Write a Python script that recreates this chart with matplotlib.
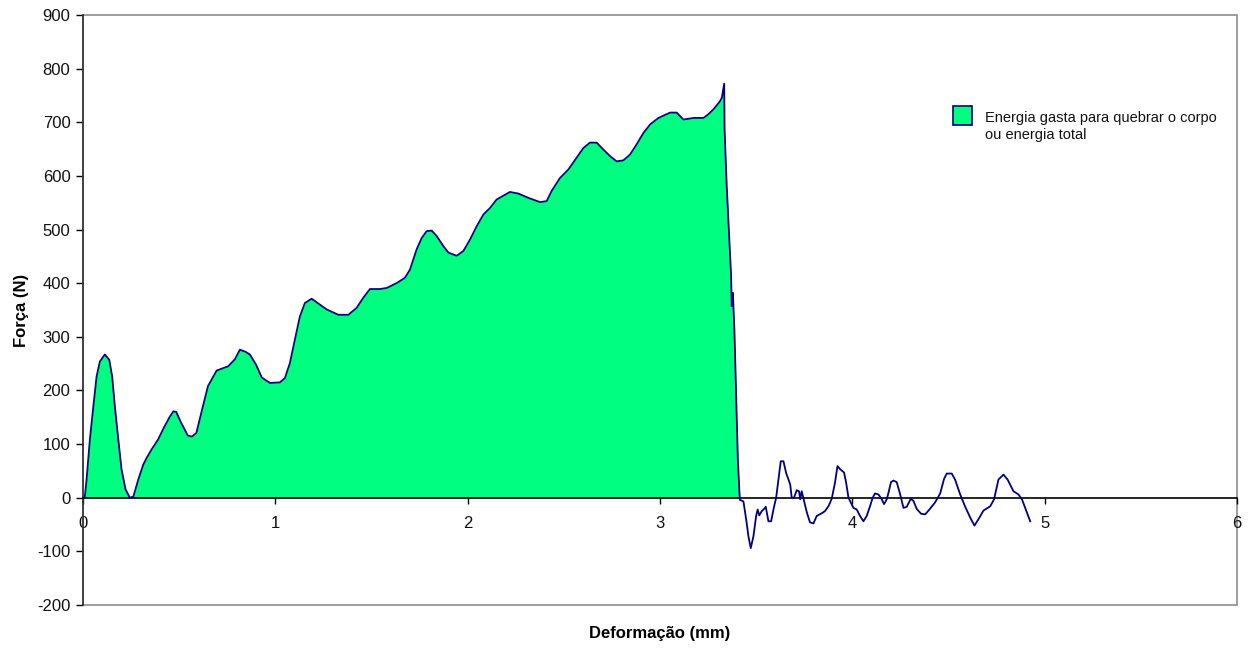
import matplotlib

matplotlib.use("Agg")
import matplotlib.pyplot as plt
import numpy as np
from matplotlib.patches import Rectangle


# deformation (mm) and force (N)
deformacao = [
    0.000, 0.010, 0.019, 0.036, 0.054, 0.071, 0.088, 0.114, 0.137, 0.152,
    0.166, 0.184, 0.201, 0.222, 0.244, 0.262, 0.288, 0.314, 0.331, 0.357,
    0.390, 0.420, 0.450, 0.470, 0.485, 0.510, 0.545, 0.567, 0.590, 0.620,
    0.650, 0.695, 0.755, 0.790, 0.816, 0.845, 0.868, 0.900, 0.930, 0.972,
    1.024, 1.050, 1.076, 1.102, 1.128, 1.154, 1.189, 1.224, 1.267, 1.328,
    1.380, 1.423, 1.458, 1.492, 1.544, 1.579, 1.631, 1.674, 1.700, 1.735,
    1.761, 1.787, 1.813, 1.839, 1.874, 1.900, 1.943, 1.978, 2.012, 2.047,
    2.082, 2.116, 2.151, 2.186, 2.220, 2.264, 2.316, 2.377, 2.411, 2.437,
    2.480, 2.524, 2.567, 2.602, 2.636, 2.671, 2.706, 2.740, 2.775, 2.810,
    2.845, 2.879, 2.914, 2.949, 2.992, 3.053, 3.087, 3.122, 3.174, 3.226,
    3.252, 3.278, 3.312, 3.322, 3.334, 3.336, 3.347, 3.361, 3.370, 3.373,
    3.379, 3.387, 3.396, 3.405, 3.413, 3.416, 3.434, 3.448, 3.460, 3.472,
    3.486, 3.500, 3.508, 3.516, 3.529, 3.541, 3.550, 3.564, 3.578, 3.590,
    3.604, 3.616, 3.628, 3.642, 3.656, 3.668, 3.677, 3.685, 3.697, 3.711,
    3.723, 3.729, 3.737, 3.750, 3.764, 3.780, 3.798, 3.815, 3.841, 3.858,
    3.876, 3.893, 3.910, 3.923, 3.937, 3.957, 3.968, 3.980, 3.992, 4.006,
    4.023, 4.040, 4.058, 4.075, 4.092, 4.106, 4.118, 4.136, 4.153, 4.165,
    4.179, 4.188, 4.201, 4.214, 4.231, 4.249, 4.266, 4.283, 4.304, 4.318,
    4.335, 4.358, 4.379, 4.401, 4.430, 4.457, 4.477, 4.491, 4.517, 4.534,
    4.561, 4.587, 4.613, 4.635, 4.656, 4.682, 4.717, 4.737, 4.760, 4.786,
    4.807, 4.838, 4.864, 4.882, 4.899, 4.925,
]
forca = [
    0, 2, 34, 108, 170, 226, 254, 267, 257, 226,
    170, 108, 52, 15, 0, 2, 34, 62, 74, 90,
    108, 130, 150, 161, 160, 140, 116, 114, 121, 165,
    208, 237, 245, 258, 276, 272, 267, 248, 224, 214,
    215, 223, 251, 295, 338, 363, 371, 362, 351, 341,
    341, 354, 373, 389, 389, 391, 400, 410, 425, 463,
    484, 497, 498, 488, 469, 457, 451, 460, 481, 506,
    528, 540, 556, 563, 570, 567, 559, 551, 553, 572,
    596, 612, 634, 652, 662, 662, 649, 637, 627, 629,
    640, 659, 680, 696, 708, 718, 718, 705, 708, 708,
    715, 724, 739, 746, 772, 686, 581, 478, 413, 357,
    382, 313, 189, 71, 11, -4, -7, -40, -72, -94,
    -72, -34, -22, -33, -25, -21, -17, -44, -44, -22,
    0, 34, 68, 68, 46, 34, 25, 0, 0, 14,
    12, -3, 12, -7, -28, -46, -48, -34, -29, -25,
    -16, -2, 28, 59, 53, 47, 28, 0, -9, -19,
    -22, -34, -44, -34, -16, 0, 8, 6, -3, -12,
    -3, 9, 29, 32, 29, 6, -19, -17, -2, -6,
    -21, -30, -31, -22, -9, 8, 35, 45, 45, 34,
    6, -17, -37, -52, -40, -24, -16, -3, 34, 43,
    34, 12, 6, -3, -19, -44,
]
ruptura_mm = 3.416  # end of the filled energy area

legenda = "Energia gasta para quebrar o corpo\nou energia total"
x_ticks = [0, 1, 2, 3, 4, 5, 6]
y_ticks = list(range(-200, 901, 100))

VERDE = "#00FF80"
AZUL = "#000080"
CINZA = "#8c8c8c"

plt.rcParams["font.family"] = ["Liberation Sans", "DejaVu Sans"]

fig = plt.figure(figsize=(12.51, 6.48), dpi=100)
ax = fig.add_axes([0.0663, 0.0664, 0.9225, 0.9105])

x = np.array(deformacao)
y = np.array(forca)
ax.fill_between(x, y, 0, where=x <= ruptura_mm, color=VERDE, linewidth=0, zorder=2)
ax.plot(x, y, color=AZUL, linewidth=1.3, zorder=3)

ax.set_xlim(0, 6)
ax.set_ylim(-200, 900)
ax.set_xticks(x_ticks)
ax.set_yticks(y_ticks)
ax.set_xticklabels([str(t) for t in x_ticks])
ax.set_yticklabels([str(t) for t in y_ticks])

# zero line carries the x axis, grey frame around the plot area
ax.spines["bottom"].set_position(("data", 0))
ax.spines["bottom"].set_color("black")
ax.spines["bottom"].set_linewidth(1.2)
ax.spines["left"].set_color("#333333")
ax.spines["left"].set_linewidth(1.2)
for side in ("top", "right"):
    ax.spines[side].set_visible(False)
ax.add_patch(Rectangle((0, 0), 1, 1, transform=ax.transAxes, fill=False,
                       edgecolor=CINZA, linewidth=1.2, clip_on=False, zorder=1))

ax.tick_params(axis="x", direction="out", length=4, width=1, pad=9,
               labelsize=12, colors="black")
ax.tick_params(axis="y", direction="out", length=5, width=1, pad=4,
               labelsize=12, colors="black")
for lab in ax.get_xticklabels() + ax.get_yticklabels():
    lab.set_color("#111111")

ax.set_xlabel("Deformação (mm)", fontsize=12, fontweight="bold")
ax.set_ylabel("Força (N)", fontsize=12, fontweight="bold")
ax.xaxis.set_label_coords(0.5, -0.036)
ax.yaxis.set_label_coords(-0.047, 0.5)

# legend drawn by hand: swatch beside the first line of a two-line label
ax.add_patch(Rectangle((0.7539, 0.8136), 0.0165, 0.0322, transform=ax.transAxes,
                       facecolor=VERDE, edgecolor=AZUL, linewidth=1.2,
                       clip_on=False, zorder=4))
ax.text(0.7816, 0.838, legenda, transform=ax.transAxes, fontsize=10.5,
        ha="left", va="top", linespacing=1.3, color="#111111")

fig.savefig("out.png", dpi=100)
plt.close(fig)
